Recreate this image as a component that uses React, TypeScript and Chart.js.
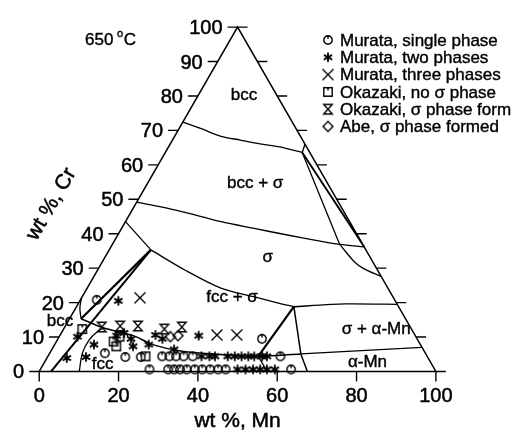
import { useEffect, useRef } from 'react';
import { Chart, registerables } from 'chart.js';

Chart.register(...registerables);

// A composition is [wt% Mn, wt% Cr]; Fe is the balance.
type Comp = [number, number];

// ---- tick values ----
const crTicks = [0, 10, 20, 30, 40, 50, 60, 70, 80, 90, 100];
const mnTicks = [0, 20, 40, 60, 80, 100];

// ---- experimental alloys ----
const murataSingle: Comp[] = [
  [4.1, 20.8], [51.4, 9.5], [13.9, 5.3], [19.6, 4.2], [23.5, 4.2],
  [28.8, 4.4], [30.6, 4.4], [32.3, 4.4], [34.2, 4.4], [36.5, 4.4], [58.6, 4.4],
  [27.5, 0.6], [32.2, 0.6], [33.7, 0.6], [35.2, 0.6], [36.9, 0.6], [38.9, 0.6],
  [40.8, 0.6], [42.8, 0.6], [44.8, 0.6], [46.7, 0.6], [63.2, 0.6],
];
const murataTwo: Comp[] = [
  [9.7, 20.5], [4.6, 10.1], [5.0, 3.9], [9.7, 4.2], [9.9, 7.8], [14.3, 10.4],
  [15.8, 11.2], [18.4, 9.5], [20.0, 7.3], [23.7, 7.8], [24.0, 10.6], [26.3, 9.5],
  [35.0, 10.4], [30.8, 6.4],
  [38.7, 4.4], [40.7, 4.4], [42.1, 4.4], [45.3, 4.4], [47.1, 4.4], [48.8, 4.4],
  [50.5, 4.4], [52.0, 4.4], [54.0, 4.4], [55.2, 4.4],
  [49.7, 0.6], [51.7, 0.6], [53.6, 0.6], [55.4, 0.6], [57.1, 0.6], [59.1, 0.6],
];
const murataThree: Comp[] = [[14.7, 21.4], [39.5, 10.6], [44.5, 10.6]];
const okazakiNoSigma: Comp[] = [[4.7, 12.3], [14.4, 8.7], [15.8, 7.3], [15.2, 10.1], [24.6, 4.4]];
const okazakiSigma: Comp[] = [[9.3, 12.9], [13.8, 13.2], [18.3, 13.2], [25.4, 12.3], [29.5, 12.9]];
const abeSigma: Comp[] = [[28.0, 10.1], [29.8, 10.4]];

// ---- phase boundaries at 650 °C ----
const triangle: Comp[] = [[0, 0], [100, 0], [0, 100], [0, 0]];
const bccBoundary: Comp[] = [[0, 72.4], [5.6, 70.5], [11.7, 68.3], [17.1, 67.2], [22.6, 66.1], [28.0, 65.2], [34.5, 63.6]];
const bccEdgeTie: Comp[] = [[34.5, 63.6], [34.0, 66.0]];
const sigmaUpper: Comp[] = [[0, 49.2], [11.3, 46.8], [24.1, 43.5], [33.1, 41.6], [42.4, 39.7], [51.5, 37.9], [57.3, 36.9], [63.8, 36.2]];
const narrowTieA: Comp[] = [[34.5, 63.6], [62.0, 38.0]];
const narrowTieB: Comp[] = [[34.5, 63.6], [63.8, 36.2]];
const sigmaRightTie: Comp[] = [[34.5, 63.6], [57.3, 36.9]];
const sigmaRightCurve: Comp[] = [[57.3, 36.9], [63.6, 31.8], [67.0, 29.8], [72.4, 27.6]];
const sigmaFccTie: Comp[] = [[0, 43.5], [10.5, 35.3]];
const sigmaLower: Comp[] = [[10.5, 35.3], [22.1, 29.4], [33.7, 24.2], [43.2, 21.7], [49.8, 20.0], [54.8, 18.8]];
const sigmaAlphaBoundary: Comp[] = [[54.8, 18.8], [67.2, 19.6], [80.5, 19.5]];
const tieQR: Comp[] = [[54.8, 18.8], [53.0, 4.4]];
const tieRBase: Comp[] = [[53.0, 4.4], [57.5, 0]];
const tieQS: Comp[] = [[54.8, 18.8], [63.4, 5.1], [67.6, 0]];
const alphaMnBoundary: Comp[] = [[63.4, 5.1], [93.0, 7.0]];
const fccBoundaryUpper: Comp[] = [[2.9, 15.3], [10.0, 12.6], [18.5, 10.4], [24.7, 7.8], [33.0, 5.9], [43.4, 4.9], [53.0, 4.4], [63.4, 5.1]];
const bccSingleBoundary: Comp[] = [[0, 21.3], [1.0, 18.5], [2.9, 15.3]];
const tieNM: Comp[] = [[2.9, 15.3], [10.5, 35.3]];
const tieBaseM: Comp[] = [[3.0, 0], [10.5, 35.3]];
const fccBoundaryLeft: Comp[] = [[10.1, 0], [8.2, 5.4], [8.0, 9.2], [8.9, 11.6], [10.0, 12.6]];

const legendLabels = [
  'Murata, single phase',
  'Murata, two phases',
  'Murata, three phases',
  'Okazaki, no \u03c3 phase',
  'Okazaki, \u03c3 phase form',
  'Abe, \u03c3 phase formed',
];

const FONT = "'Liberation Sans', Arial, Helvetica, sans-serif";

// ternary projection: x along the Fe–Mn edge, y = Cr
const toXY = (c: Comp) => ({ x: c[0] + c[1] / 2, y: c[1] });

function makeMarker(kind: string): HTMLCanvasElement {
  const s = 14;
  const cv = document.createElement('canvas');
  cv.width = s;
  cv.height = s;
  const g = cv.getContext('2d')!;
  g.translate(7, 7);
  g.strokeStyle = '#000';
  g.lineWidth = 1.4;
  g.beginPath();
  switch (kind) {
    case 'circle':
      g.arc(0, 0, 4.2, 0, Math.PI * 2);
      g.moveTo(0, -4.2);
      g.lineTo(0, -1.2);
      break;
    case 'star':
      for (let i = 0; i < 3; i++) {
        const a = Math.PI / 2 + (i * Math.PI) / 3;
        g.moveTo(Math.cos(a) * 4.8, Math.sin(a) * 4.8);
        g.lineTo(-Math.cos(a) * 4.8, -Math.sin(a) * 4.8);
      }
      g.lineWidth = 1.8;
      break;
    case 'cross':
      g.moveTo(-5.5, -5.5);
      g.lineTo(5.5, 5.5);
      g.moveTo(5.5, -5.5);
      g.lineTo(-5.5, 5.5);
      break;
    case 'square':
      g.rect(-4.2, -4.2, 8.4, 8.4);
      g.moveTo(0, -4.2);
      g.lineTo(0, -1.5);
      break;
    case 'hourglass':
      g.moveTo(-4.3, -4.7);
      g.lineTo(4.3, -4.7);
      g.lineTo(-4.3, 4.7);
      g.lineTo(4.3, 4.7);
      g.closePath();
      break;
    case 'diamond':
      g.moveTo(0, -5);
      g.lineTo(5, 0);
      g.lineTo(0, 5);
      g.lineTo(-5, 0);
      g.closePath();
      break;
  }
  g.stroke();
  return cv;
}

// text with a faint outline so the glyphs carry the weight of the printed figure
function heavyText(ctx: CanvasRenderingContext2D, t: string, x: number, y: number) {
  ctx.fillText(t, x, y);
  ctx.strokeText(t, x, y);
}

export default function App() {
  const ref = useRef<HTMLCanvasElement>(null);

  useEffect(() => {
    const canvas = ref.current;
    if (!canvas) return;

    const markers = ['circle', 'star', 'cross', 'square', 'hourglass', 'diamond'].map(makeMarker);

    const line = (data: Comp[], width = 1.3, tension = 0) => ({
      data: data.map(toXY),
      showLine: true,
      borderColor: '#000',
      borderWidth: width,
      pointRadius: 0,
      tension,
      fill: false,
    });
    const points = (data: Comp[], marker: HTMLCanvasElement) => ({
      data: data.map(toXY),
      showLine: false,
      pointStyle: marker,
      pointRadius: 5,
      borderColor: '#000',
      backgroundColor: '#000',
    });

    const phaseFieldLabels: [string, number, number][] = [
      ['bcc', 11.6, 80.1],
      ['bcc + \u03c3', 27.1, 54.7],
      ['\u03c3', 41.0, 33.2],
      ['fcc + \u03c3', 37.9, 21.4],
      ['\u03c3 + \u03b1-Mn', 78.8, 12.3],
      ['\u03b1-Mn', 81.4, 2.7],
      ['bcc', -2.0, 14.5],
      ['fcc', 14.9, 2.2],
    ];

    const ternaryPlugin = {
      id: 'ternaryFrame',
      afterDatasetsDraw(chart: any) {
        const ctx: CanvasRenderingContext2D = chart.ctx;
        const xs = chart.scales.x;
        const ys = chart.scales.y;
        const P = (mn: number, cr: number) => [xs.getPixelForValue(mn + cr / 2), ys.getPixelForValue(cr)];
        ctx.save();
        ctx.strokeStyle = '#000';
        ctx.fillStyle = '#000';

        // Cr ticks on both sloping edges, labels on the left one
        ctx.font = `20px ${FONT}`;
        ctx.textAlign = 'right';
        ctx.textBaseline = 'alphabetic';
        for (const c of crTicks) {
          const [lx, ly] = P(0, c);
          const [rx, ry] = P(100 - c, c);
          ctx.lineWidth = 1.4;
          ctx.beginPath();
          ctx.moveTo(lx - 10, ly);
          ctx.lineTo(lx, ly);
          ctx.moveTo(rx, ry);
          ctx.lineTo(rx + 10, ry);
          ctx.stroke();
          ctx.lineWidth = 0.5;
          heavyText(ctx, String(c), lx - 15, ly + 7);
        }

        // Mn ticks along the base
        ctx.textAlign = 'center';
        for (const m of mnTicks) {
          const [bx, by] = P(m, 0);
          ctx.lineWidth = 1.4;
          ctx.beginPath();
          ctx.moveTo(bx, by);
          ctx.lineTo(bx, by + 10);
          ctx.stroke();
          ctx.lineWidth = 0.5;
          heavyText(ctx, String(m), bx, by + 30.5);
        }

        // axis titles
        ctx.font = `21px ${FONT}`;
        const [b0] = P(0, 0);
        const [b1, bb] = P(100, 0);
        heavyText(ctx, 'wt %, Mn', (b0 + b1) / 2, bb + 56);
        const [lx, ly] = P(0, 48);
        ctx.save();
        ctx.translate(lx - 83, ly - 2);
        ctx.rotate(-Math.PI / 3);
        ctx.textBaseline = 'middle';
        heavyText(ctx, 'wt %, Cr', 0, 0);
        ctx.restore();

        // temperature
        ctx.textAlign = 'left';
        ctx.textBaseline = 'alphabetic';
        ctx.lineWidth = 0.4;
        ctx.font = `17px ${FONT}`;
        heavyText(ctx, '650 ', 85, 45);
        const w650 = ctx.measureText('650 ').width;
        ctx.font = `11px ${FONT}`;
        heavyText(ctx, 'o', 85 + w650 - 1, 37);
        const wo = ctx.measureText('o').width;
        ctx.font = `17px ${FONT}`;
        heavyText(ctx, 'C', 85 + w650 + wo - 0.5, 45);

        // phase field names
        ctx.textAlign = 'center';
        ctx.textBaseline = 'middle';
        for (const [t, mn, cr] of phaseFieldLabels) {
          const [x, y] = P(mn, cr);
          heavyText(ctx, t, x, y);
        }

        // legend
        ctx.textAlign = 'left';
        ctx.textBaseline = 'middle';
        legendLabels.forEach((t, i) => {
          const y = 40 + i * 17.3;
          ctx.drawImage(markers[i], 328 - 7, y - 7);
          heavyText(ctx, t, 340, y + 1);
        });
        ctx.restore();
      },
    };

    const chart = new Chart(canvas, {
      type: 'scatter',
      data: {
        datasets: [
          points(murataSingle, markers[0]),
          points(murataTwo, markers[1]),
          points(murataThree, markers[2]),
          points(okazakiNoSigma, markers[3]),
          points(okazakiSigma, markers[4]),
          points(abeSigma, markers[5]),
          line(triangle, 1.5),
          line(bccBoundary, 1.3, 0.3),
          line(bccEdgeTie, 1.3),
          line(sigmaUpper, 1.3, 0.3),
          line(narrowTieA, 1.3),
          line(narrowTieB, 1.6),
          line(sigmaRightTie, 1.3),
          line(sigmaRightCurve, 1.3, 0.35),
          line(sigmaFccTie, 1.3),
          line(sigmaLower, 1.3, 0.3),
          line(sigmaAlphaBoundary, 1.3, 0.2),
          line(tieQR, 2.2),
          line(tieRBase, 1.3),
          line(tieQS, 1.5),
          line(alphaMnBoundary, 1.3),
          line(fccBoundaryUpper, 1.5, 0.3),
          line(bccSingleBoundary, 1.3, 0.3),
          line(tieNM, 2.2),
          line(tieBaseM, 2.0),
          line(fccBoundaryLeft, 1.3, 0.4),
        ] as any,
      },
      options: {
        animation: false,
        responsive: false,
        maintainAspectRatio: false,
        events: [],
        layout: { padding: 0 },
        plugins: { legend: { display: false }, tooltip: { enabled: false } },
        scales: {
          x: { type: 'linear', display: false, min: -8.374, max: 120.197 },
          y: { type: 'linear', display: false, min: -18.16, max: 106.13 },
        },
      },
      plugins: [ternaryPlugin],
    });

    return () => chart.destroy();
  }, []);

  return (
    <div style={{ position: 'fixed', left: 0, top: 0, width: 522, height: 440, background: '#fff' }}>
      <canvas ref={ref} width={522} height={440} style={{ display: 'block' }} />
    </div>
  );
}
